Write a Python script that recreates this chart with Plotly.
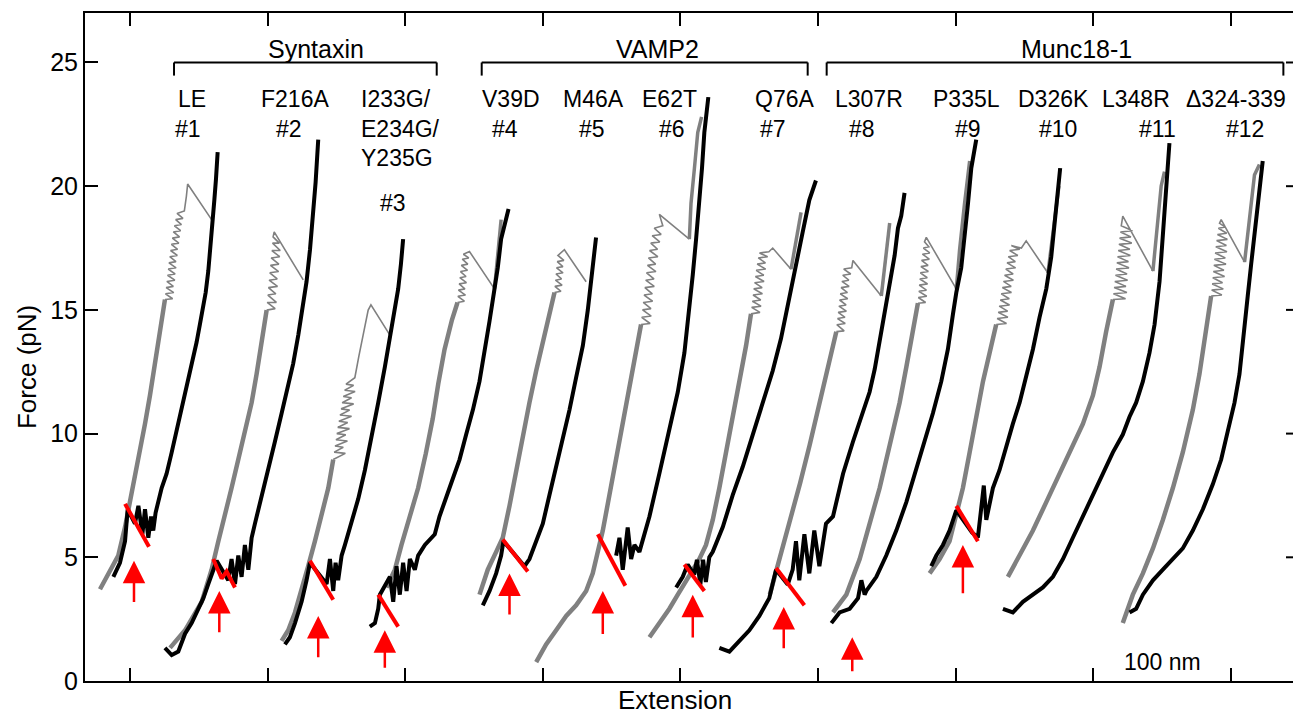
import plotly.graph_objects as go

# ---------------- data (extension in nm, force in pN) ----------------
# pair 1
g1_lo = [(-21.8,3.71),(-15.7,4.35),(-8.5,5.07),(-3.6,6.22),(0,7.23),(3.6,8.38),(7.3,9.38),(10.9,10.39),(14.5,11.54),(18.2,12.83),(21.8,14.12),(25.4,15.42)]
g1_hop = [(25.4,15.42),(31.0,15.45),(25.8,15.65),(31.8,15.7),(26.3,15.9),(31.5,15.95),(26.8,16.15),(32.6,16.2),(27.3,16.4),(32.8,16.45),(27.8,16.65),(33.5,16.7),(28.3,16.9),(33.4,16.95),(28.9,17.15),(34.4,17.2),(29.5,17.4),(34.6,17.45),(30.1,17.65),(35.5,17.7),(30.8,17.9),(36.0,17.95),(31.5,18.15),(36.8,18.2),(32.3,18.4),(37.4,18.45),(33.2,18.65),(38.5,18.7),(34.2,18.9),(39.5,19.0),(41.0,19.6),(41.9,20.09),(59.3,18.65)]
b1 = [(-12.1,4.21),(-7.3,4.78),(-3.6,5.65),(-1.7,6.94),(3.6,6.36),(6.1,7.08),(9.0,5.93),(10.9,6.94),(13.3,5.79),(15.3,6.65),(16.9,6.08),(18.6,6.8),(23.0,7.8),(26.6,8.38),(30.3,9.24),(33.9,10.1),(37.5,10.96),(41.2,11.82),(44.8,12.69),(48.4,13.69),(50.8,14.41),(53.3,15.13),(55.0,15.7),(56.9,16.57),(58.6,17.57),(60.0,18.58),(61.3,19.44),(62.5,20.3),(63.7,21.38)]
r1 = [(-3.6,7.16),(13.8,5.43)]
# pair 2
g2_lo = [(29.1,1.34),(40.0,2.05),(52.1,3.2),(59.3,4.5),(64.2,5.65),(69.0,6.65),(73.8,7.8),(78.7,8.95),(83.5,10.1),(88.4,11.25),(92.0,12.4),(95.6,13.55),(99.3,14.99)]
g2_hop = [(99.3,14.99),(105.5,15.05),(99.7,15.3),(106.4,15.3),(100.2,15.6),(106.0,15.65),(100.6,15.9),(107.2,15.95),(101.1,16.2),(107.0,16.25),(101.6,16.5),(108.0,16.55),(102.1,16.8),(108.2,16.85),(102.6,17.1),(108.8,17.15),(103.1,17.4),(109.2,17.4),(103.6,17.7),(108.5,17.7),(104.0,17.95),(104.8,18.15),(125.9,16.21)]
b2 = [(25.4,1.34),(30.3,1.05),(35.1,1.19),(40.0,1.91),(44.8,2.34),(49.6,2.92),(53.3,3.35),(56.9,3.92),(60.5,4.5),(63.0,4.86),(71.4,4.07),(73.8,4.93),(76.3,3.92),(78.7,5.07),(81.1,4.21),(83.5,5.5),(86.0,4.5),(88.4,5.79),(90.8,6.36),(95.6,7.51),(100.5,8.52),(105.3,9.67),(110.2,10.82),(115.0,11.97),(118.6,12.83),(122.3,13.98),(125.9,15.27),(128.3,16.14),(130.8,17.43),(133.2,18.86),(134.9,20.16),(136.8,21.88)]
r2 = [(60.5,4.93),(66.6,4.14),(70.2,4.43),(76.3,3.78)]
# pair 3
g3_lo = [(110.2,1.62),(115.0,2.05),(119.9,2.77),(124.7,3.64),(129.5,4.64),(134.4,5.65),(139.2,6.65),(144.1,7.8),(147.7,8.95)]
g3_hop = [(147.7,8.95),(156.5,9.2),(148.4,9.25),(155.0,9.45),(149.0,9.5),(158.0,9.7),(149.7,9.75),(156.8,9.95),(150.3,10.0),(159.5,10.2),(151.0,10.25),(158.2,10.45),(151.8,10.5),(161.0,10.7),(152.6,10.75),(159.6,10.95),(153.4,11.0),(162.5,11.2),(154.2,11.25),(161.0,11.45),(155.0,11.5),(163.6,11.7),(156.0,11.75),(162.5,11.95),(157.0,12.0),(163.4,12.26),(166.3,13.12),(169.7,14.12),(173.1,14.99),(175.1,15.2),(188.9,13.98)]
b3 = [(112.6,1.48),(116.2,1.77),(119.9,2.34),(124.7,3.2),(128.3,4.07),(130.8,4.78),(142.9,3.92),(145.3,4.93),(147.7,3.64),(149.4,4.78),(151.3,4.07),(153.8,5.07),(156.2,5.5),(161.0,6.36),(165.9,7.37),(170.7,8.52),(175.5,9.81),(180.4,11.25),(185.2,12.69),(188.9,13.84),(192.0,14.99),(194.9,15.85),(196.9,16.85),(198.5,17.86)]
r3 = [(130.8,4.86),(147.7,3.28)]
# pair 4
g4_lo = [(186.4,3.78),(192.5,4.5),(197.3,5.5),(203.4,6.65),(209.4,7.8),(215.0,9.2),(220.0,10.6),(224.0,12.0),(228.6,13.4),(234.0,14.6),(238.0,15.3)]
g4_hop = [(238.0,15.3),(243.0,15.35),(238.3,15.55),(243.8,15.6),(238.7,15.8),(243.4,15.85),(239.2,16.05),(244.5,16.1),(239.7,16.3),(244.2,16.35),(240.2,16.55),(245.3,16.6),(240.8,16.8),(245.5,16.85),(241.5,17.05),(246.2,17.1),(242.3,17.25),(246.7,17.36),(264.9,15.85)]
g4_hi = [(264.9,15.85),(267.3,17.43),(269.7,18.65)]
b4 = [(174.3,2.2),(178.0,2.34),(180.4,2.92),(181.6,3.49),(188.9,4.21),(191.3,3.2),(193.7,4.64),(196.1,3.49),(198.5,4.78),(201.0,3.64),(203.4,4.93),(207.0,4.5),(209.4,5.07),(214.3,5.5),(221.5,5.93),(224.9,6.65),(232.2,7.8),(239.5,8.95),(244.3,9.96),(249.2,10.96),(254.0,12.11),(257.6,13.26),(261.3,14.55),(264.9,15.85),(267.3,16.71),(269.7,17.86),(272.2,18.43),(275.1,19.08)]
r4 = [(180.4,3.49),(194.9,2.2)]
# pair 5
g5_lo = [(254.0,3.49),(260.0,4.5),(266.1,5.22),(270.9,5.79),(275.8,7.08),(280.6,8.52),(285.5,9.96),(290.3,11.25),(295.2,12.54),(300.0,13.69),(304.8,14.7),(308.5,15.7)]
g5_hop = [(308.5,15.7),(313.2,15.75),(308.8,15.95),(314.0,16.0),(309.2,16.2),(313.6,16.25),(309.6,16.45),(314.7,16.5),(310.0,16.7),(314.6,16.75),(310.5,16.95),(315.3,17.0),(311.0,17.2),(315.7,17.43),(331.5,16.14)]
b5 = [(256.4,3.06),(261.3,3.64),(266.1,4.35),(269.7,5.07),(271.4,5.65),(286.7,4.64),(290.3,4.93),(295.2,5.65),(300.0,6.36),(304.8,7.51),(309.7,8.66),(314.5,9.81),(319.4,10.96),(324.2,12.26),(329.1,13.55),(332.7,14.99),(335.1,16.14),(336.8,17.0),(338.7,17.93)]
r5 = [(270.9,5.72),(277.0,5.29),(281.8,5.0),(289.1,4.43)]
# pair 6
g6_lo = [(295.2,0.76),(302.4,1.48),(309.7,2.05),(317.0,2.63),(324.2,3.06),(331.5,3.64),(336.3,4.35),(340.0,5.22),(343.6,6.08),(348.4,7.51),(353.3,8.95),(358.1,10.39),(362.9,11.82),(367.8,13.26),(371.4,14.41)]
g6_hop = [(371.4,14.41),(378.0,14.45),(371.9,14.7),(378.8,14.75),(372.5,15.0),(378.6,15.05),(373.0,15.3),(379.8,15.35),(373.6,15.6),(379.6,15.65),(374.2,15.9),(381.0,15.95),(374.8,16.2),(380.8,16.25),(375.4,16.5),(382.2,16.55),(376.1,16.8),(382.0,16.85),(376.8,17.1),(383.6,17.15),(377.6,17.4),(383.4,17.45),(378.5,17.7),(385.0,17.75),(379.5,18.0),(386.0,18.05),(381.0,18.3),(387.2,18.4),(384.7,18.86),(406.5,17.86)]
g6_hi = [(406.5,17.86),(407.7,19.3),(410.2,20.73),(412.6,22.17),(415.4,22.8)]
b6 = [(353.3,5.07),(355.7,5.79),(358.1,4.5),(361.7,6.21),(364.2,4.93),(366.6,5.5),(370.2,5.22),(377.5,6.65),(384.7,8.38),(392.0,10.1),(398.1,11.68),(402.9,13.26),(406.5,14.99),(409.0,16.42),(411.4,17.86),(413.8,19.3),(415.7,20.73),(417.4,22.17),(420.3,23.6)]
r6 = [(340.0,5.93),(360.0,3.85)]
# pair 7
g7_lo = [(377.5,1.77),(384.7,2.34),(392.0,2.92),(398.1,3.49),(404.1,4.07),(409.0,4.5),(413.8,4.93),(418.6,5.5),(423.5,6.51),(428.3,7.8),(433.2,9.24),(438.0,10.68),(442.9,12.11),(447.7,13.55),(451.3,14.84)]
g7_hop = [(451.3,14.84),(457.8,14.9),(451.8,15.1),(458.6,15.15),(452.3,15.35),(458.4,15.4),(452.8,15.6),(459.6,15.65),(453.3,15.85),(459.4,15.9),(453.9,16.1),(460.8,16.15),(454.5,16.35),(460.6,16.4),(455.1,16.6),(462.0,16.65),(455.8,16.85),(461.8,16.9),(456.6,17.1),(463.4,17.15),(457.5,17.3),(464.3,17.35),(467.1,17.5),(480.4,16.64)]
g7_hi = [(480.4,16.64),(484.0,17.86),(487.7,18.94)]
b7 = [(396.9,3.78),(401.7,4.21),(405.3,4.71),(410.0,4.3),(412.0,4.9),(414.5,3.9),(416.5,4.9),(418.5,4.0),(421.0,5.0),(423.5,5.22),(430.8,6.22),(438.0,7.51),(445.3,8.66),(452.5,9.96),(459.8,11.25),(467.1,12.54),(473.1,13.84),(479.2,15.56),(484.0,16.71),(488.9,18.15),(493.7,19.44),(498.5,20.23)]
r7 = [(402.9,4.71),(417.4,3.64)]
# pair 8
g8_lo = [(465.0,3.5),(472.0,4.9),(478.0,6.2),(483.0,7.2),(487.0,8.0),(493.9,9.53),(501.2,11.25),(508.5,12.83),(513.3,14.12)]
g8_hop = [(513.3,14.12),(519.0,14.15),(513.7,14.4),(519.8,14.45),(514.2,14.65),(519.6,14.7),(514.7,14.9),(520.6,14.95),(515.2,15.15),(520.4,15.2),(515.7,15.4),(521.6,15.45),(516.2,15.65),(521.4,15.7),(516.8,15.9),(522.6,15.95),(517.4,16.15),(522.4,16.2),(518.0,16.4),(523.8,16.45),(518.7,16.65),(524.5,16.7),(525.4,17.0),(546.0,15.56)]
g8_hi = [(546.0,15.56),(549.6,17.14),(552.1,18.51)]
b8 = [(428.3,1.34),(435.6,1.19),(442.9,1.62),(450.1,2.05),(457.4,2.63),(464.6,3.35),(469.5,4.5),(478.0,3.9),(481.6,4.5),(484.0,5.65),(486.4,4.07),(490.1,5.93),(493.7,4.35),(497.3,6.08),(501.0,4.64),(505.8,6.36),(510.9,6.65),(518.2,8.38),(525.4,9.67),(532.7,10.96),(537.5,11.68),(541.2,12.6),(544.8,13.8),(548.4,15.0),(552.1,16.2),(555.7,17.2),(558.1,18.3),(560.5,18.8),(562.9,19.73)]
r8 = [(469.5,4.57),(490.1,3.06)]
# pair 9
g9_lo = [(510.9,2.77),(520.6,3.49),(530.3,4.93),(537.5,6.36),(544.8,7.8),(552.1,9.53),(559.3,11.25),(564.2,12.69),(569.0,14.12),(572.6,15.27)]
g9_hop = [(572.6,15.27),(578.2,15.3),(572.9,15.5),(579.0,15.55),(573.3,15.75),(578.8,15.8),(573.6,16.0),(579.6,16.05),(574.0,16.25),(579.4,16.3),(574.4,16.5),(580.2,16.55),(574.8,16.75),(580.0,16.8),(575.3,17.0),(580.9,17.05),(575.9,17.25),(581.2,17.3),(576.6,17.5),(580.5,17.55),(577.4,17.75),(578.7,17.93),(600.5,15.85)]
g9_hi = [(600.5,15.85),(602.9,17.43),(606.5,19.3),(609.0,20.46),(610.2,21.02)]
b9 = [(509.7,2.34),(515.7,2.77),(523.0,2.92),(529.1,3.35),(531.5,4.07),(533.9,3.49),(535.1,3.64),(542.4,4.21),(549.6,5.07),(556.9,6.08),(564.2,7.23),(571.4,8.52),(577.5,9.67),(583.5,10.82),(589.6,12.11),(594.4,13.41),(598.1,14.84),(600.5,15.7),(604.1,16.71),(606.5,17.86),(609.0,19.3),(611.4,20.73),(615.0,21.88)]
# pair 10
g10_lo = [(581.1,4.35),(588.4,4.93),(595.6,5.65),(600.5,6.65),(605.3,7.8),(610.2,9.24),(615.0,10.68),(619.9,12.11),(624.7,13.26),(629.5,14.41)]
g10_hop = [(629.5,14.41),(637.0,14.45),(630.2,14.65),(638.0,14.7),(631.0,14.9),(637.8,14.95),(631.7,15.15),(639.2,15.2),(632.5,15.4),(639.0,15.45),(633.2,15.65),(640.6,15.7),(634.0,15.9),(640.4,15.95),(634.8,16.15),(642.0,16.2),(635.6,16.4),(641.8,16.45),(636.5,16.65),(643.6,16.7),(637.4,16.9),(643.4,16.95),(638.3,17.15),(645.2,17.2),(639.3,17.4),(646.6,17.45),(640.5,17.6),(647.8,17.5),(651.3,17.79),(667.1,16.49)]
g10_hi = [(667.1,16.49),(669.5,17.57),(673.1,19.3),(675.1,20.01)]
b10 = [(582.3,4.64),(586.0,5.07),(590.8,5.5),(595.6,6.08),(600.5,6.9),(612.0,6.0),(616.2,5.8),(618.6,6.94),(620.5,7.9),(622.3,6.51),(624.7,7.23),(627.1,7.8),(631.9,8.52),(636.8,9.53),(641.6,10.39),(646.5,11.25),(651.3,12.26),(656.2,13.41),(661.0,14.7),(665.9,15.85),(669.5,17.14),(671.9,18.58),(674.3,20.01),(676.0,20.73)]
r10 = [(600.5,7.08),(616.2,5.65)]
# pair 11
g11_lo = [(638.0,4.21),(646.5,5.07),(656.2,6.08),(665.9,7.23),(675.5,8.38),(685.2,9.53),(692.5,10.39),(699.8,11.54),(704.6,12.69),(709.4,14.12),(714.3,15.42)]
g11_hop = [(714.3,15.42),(723.5,15.45),(714.7,15.65),(724.5,15.7),(715.2,15.9),(723.8,15.95),(715.7,16.15),(725.0,16.2),(716.2,16.4),(724.6,16.45),(716.7,16.65),(726.0,16.7),(717.2,16.9),(725.6,16.95),(717.7,17.15),(727.0,17.2),(718.2,17.4),(726.6,17.45),(718.7,17.65),(728.0,17.7),(719.2,17.9),(727.4,17.95),(719.8,18.15),(728.5,18.2),(720.4,18.4),(721.5,18.79),(743.4,16.57)]
g11_hi = [(743.4,16.57),(747.0,18.58),(749.4,20.01),(751.8,20.59)]
b11 = [(634.4,2.92),(641.6,2.77),(648.9,3.2),(656.2,3.49),(663.4,3.78),(670.7,4.21),(678.0,4.93),(685.2,5.79),(692.5,6.65),(699.8,7.51),(707.0,8.38),(714.3,9.24),(721.5,9.96),(726.4,10.68),(731.2,11.25),(736.1,12.11),(740.9,13.26),(744.6,14.41),(748.2,16.14),(750.6,17.86),(753.0,19.58),(755.4,21.74)]
# pair 12
g12_lo = [(721.5,2.34),(728.8,3.49),(736.1,4.35),(743.4,5.36),(750.6,6.51),(757.9,7.8),(765.1,9.24),(772.4,10.96),(777.2,12.4),(782.1,14.12),(785.7,15.56)]
g12_hop = [(785.7,15.56),(793.5,15.6),(786.1,15.8),(794.5,15.85),(786.5,16.05),(794.0,16.1),(786.9,16.3),(795.5,16.35),(787.3,16.55),(795.0,16.6),(787.7,16.8),(796.5,16.85),(788.1,17.05),(796.0,17.1),(788.6,17.3),(797.2,17.35),(789.1,17.55),(796.8,17.6),(789.7,17.8),(797.5,17.85),(790.3,18.05),(797.0,18.1),(791.0,18.3),(796.0,18.35),(791.8,18.5),(793.0,18.65),(810.0,16.93)]
g12_hi = [(810.0,16.93),(813.6,18.58),(817.2,20.45),(820.8,20.88)]
b12 = [(726.4,2.77),(731.2,2.92),(736.1,3.49),(743.4,4.07),(750.6,4.5),(757.9,4.93),(765.1,5.36),(772.4,6.08),(779.7,6.94),(786.9,7.95),(793.0,8.95),(797.8,10.1),(802.7,11.25),(806.3,12.4),(809.9,14.12),(812.3,15.56),(814.8,16.85),(818.4,18.58),(820.8,20.01),(823.2,21.02)]

# arrows: (x, tip force, tail force)
arrows = [(2.9,4.86,3.13),(64.9,3.64,1.91),(136.8,2.63,0.9),(185.2,2.05,0.47),(275.8,4.35,2.63),
          (343.6,3.64,1.84),(409.0,3.49,1.7),(475.1,2.99,1.26),(524.9,1.77,0.33),(605.3,5.5,3.49)]

# labels
mut_names = ["LE","F216A","V39D","M46A","E62T","Q76A","L307R","P335L","D326K","L348R","Δ324-339"]
mut_x = [45.1,119.7,276.9,337.2,392.2,475.3,537.1,607.6,670.8,731.1,803.8]
triple_names = ["I233G/","E234G/","Y235G"]
triple_x = 166.6
num_labels = ["#1","#2","#3","#4","#5","#6","#7","#8","#9","#10","#11","#12"]
num_x = [41.8,115.6,191.1,272.5,335.8,393.9,467.3,531.8,609.0,674.4,746.7,810.3]
groups = ["Syntaxin","VAMP2","Munc18-1"]
group_x = [(32.0,222.9),(255.6,492.5),(506.3,838.2)]
group_text_x = [134.9,383.7,687.5]
xtick_vals = [0,100,200,300,400,500,600,700,800]
ytick_vals = [0,5,10,15,20,25]

GRAY = "#808080"
BLACK = "#000000"
RED = "#ff0000"
FONT = "Liberation Sans, Arial, sans-serif"

fig = go.Figure()

def add(pts, color, width):
    fig.add_trace(go.Scatter(x=[p[0] for p in pts], y=[p[1] for p in pts], mode="lines",
                             line=dict(color=color, width=width), hoverinfo="skip"))

grays_lo = [g1_lo,g2_lo,g3_lo,g4_lo,g5_lo,g6_lo,g7_lo,g8_lo,g9_lo,g10_lo,g11_lo,g12_lo]
grays_hop = [g1_hop,g2_hop,g3_hop,g4_hop,g5_hop,g6_hop,g7_hop,g8_hop,g9_hop,g10_hop,g11_hop,g12_hop]
grays_hi = [g4_hi,g6_hi,g7_hi,g8_hi,g9_hi,g10_hi,g11_hi,g12_hi]
blacks = [b1,b2,b3,b4,b5,b6,b7,b8,b9,b10,b11,b12]
reds = [r1,r2,r3,r4,r5,r6,r7,r8,r10]

for g in grays_lo:
    add(g, GRAY, 4.5)
for g in grays_hop:
    add(g, GRAY, 1.6)
for g in grays_hi:
    add(g, GRAY, 3.5)
for b in blacks:
    add(b, BLACK, 4)
for r in reds:
    add(r, RED, 4)

ann = []
for (x, tip, tail) in arrows:
    ann.append(dict(x=x, y=tip, ax=x, ay=tail, xref="x", yref="y", axref="x", ayref="y",
                    showarrow=True, arrowhead=2, arrowsize=1.8, arrowwidth=2.5, arrowcolor=RED, text=""))

for name, x in zip(mut_names, mut_x):
    ann.append(dict(x=x, y=23.52, xref="x", yref="y", text=name, showarrow=False,
                    font=dict(size=23, color="black", family=FONT), xanchor="center", yanchor="middle"))
for i, name in enumerate(triple_names):
    ann.append(dict(x=triple_x, y=23.52 - 1.2 * i, xref="x", yref="y", text=name, showarrow=False,
                    font=dict(size=23, color="black", family=FONT), xanchor="left", yanchor="middle"))
for i, (name, x) in enumerate(zip(num_labels, num_x)):
    ann.append(dict(x=x, y=19.31 if i == 2 else 22.32, xref="x", yref="y", text=name, showarrow=False,
                    font=dict(size=23, color="black", family=FONT), xanchor="center", yanchor="middle"))
for name, x in zip(groups, group_text_x):
    ann.append(dict(x=x, y=25.55, xref="x", yref="y", text=name, showarrow=False,
                    font=dict(size=25, color="black", family=FONT), xanchor="center", yanchor="middle"))
ann.append(dict(x=750.7, y=0.77, xref="x", yref="y", text="100 nm", showarrow=False,
                font=dict(size=23, color="black", family=FONT), xanchor="center", yanchor="middle"))
ann.append(dict(x=-0.048, y=0.47, xref="paper", yref="paper", text="Force (pN)", showarrow=False,
                textangle=-90, font=dict(size=26, color="black", family=FONT), xanchor="center", yanchor="middle"))
ann.append(dict(x=0.488, y=-0.028, xref="paper", yref="paper", text="Extension", showarrow=False,
                font=dict(size=26, color="black", family=FONT), xanchor="center", yanchor="middle"))

shapes = []
for (x0, x1) in group_x:
    shapes.append(dict(type="line", xref="x", yref="y", x0=x0, x1=x1, y0=25.0, y1=25.0, line=dict(color="black", width=2)))
    shapes.append(dict(type="line", xref="x", yref="y", x0=x0, x1=x0, y0=25.0, y1=24.47, line=dict(color="black", width=2)))
    shapes.append(dict(type="line", xref="x", yref="y", x0=x1, x1=x1, y0=25.0, y1=24.47, line=dict(color="black", width=2)))
for v in ytick_vals[1:]:
    shapes.append(dict(type="line", xref="paper", yref="y", x0=1 - 7 / 1208, x1=1, y0=v, y1=v, line=dict(color="black", width=2)))

fig.update_layout(
    width=1293, height=717, margin=dict(l=85, r=0, t=13, b=36),
    plot_bgcolor="white", paper_bgcolor="white", showlegend=False,
    font=dict(family=FONT, color="black"),
    xaxis=dict(range=[-32.7, 845.2], tickvals=xtick_vals, ticks="inside", ticklen=13, tickwidth=2,
               tickcolor="black", showticklabels=False, showline=True, linewidth=2, linecolor="black",
               mirror="ticks", showgrid=False, zeroline=False),
    yaxis=dict(range=[0, 27], tickvals=ytick_vals, ticks="inside", ticklen=13, tickwidth=2,
               tickcolor="black", showline=True, linewidth=2, linecolor="black", mirror=False,
               showgrid=False, zeroline=False, tickfont=dict(size=25, family=FONT, color="black")),
    annotations=ann, shapes=shapes,
)

fig.write_html("out.html")
